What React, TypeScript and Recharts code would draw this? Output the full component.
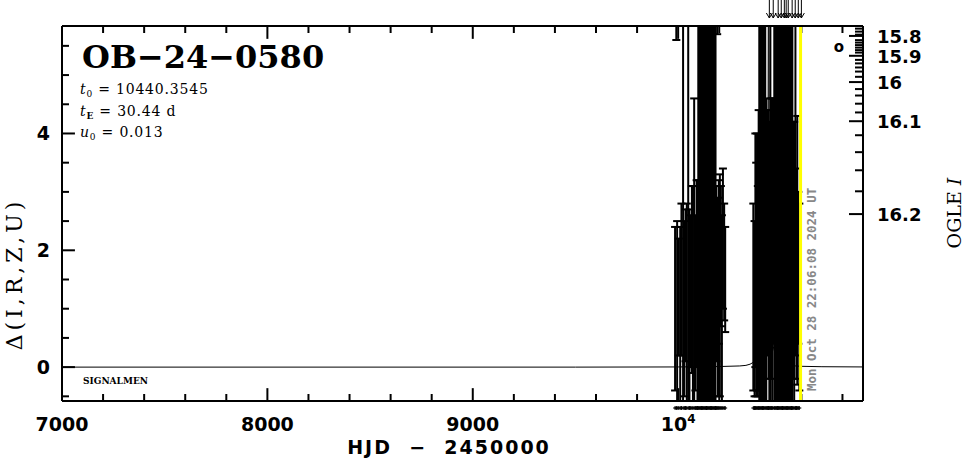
import React from 'react';
import { ComposedChart, Scatter, Line, XAxis, YAxis, ErrorBar, ReferenceLine } from 'recharts';

// ---------- data ----------
const season2023Time = [9985, 9991, 9995, 10003, 10010, 10016, 10024, 10030, 10036, 10042, 10049, 10055, 10061, 10067, 10072, 10078, 10084, 10090, 10094, 10098, 10102, 10106, 10110, 10114, 10118, 10122, 10126, 10130, 10134, 10138, 10142, 10146, 10150, 10154, 10158, 10162, 10166, 10170, 10174, 10178, 10182, 10186, 10190, 10194, 10198, 10203, 10208, 10213, 10218, 10224, 10229];
const season2023Delta = [1.0, 7.0, 0.9, 1.2, 0.8, 1.5, 3.0, 1.0, 1.4, 1.1, 3.2, 0.9, 1.3, 1.5, 1.2, 2.0, 1.1, 1.6, 1.3, 3.5, 3.0, 3.4, 2.8, 3.6, 3.0, 3.3, 2.6, 3.8, 3.1, 2.9, 3.5, 3.0, 3.7, 2.7, 3.2, 3.4, 2.9, 3.6, 3.1, 3.3, 3.0, 1.6, 6.5, 1.2, 1.8, 1.4, 1.9, 1.0, 2.2, 1.8, 1.5];
const season2023Err = [1.4, 1.4, 1.6, 1.0, 1.6, 1.3, 4.0, 1.5, 1.3, 1.7, 4.0, 1.8, 1.3, 1.6, 1.9, 2.6, 1.5, 1.6, 1.9, 4.2, 4.0, 4.5, 3.6, 4.4, 4.0, 4.2, 3.5, 4.6, 3.9, 4.1, 4.3, 3.8, 4.5, 3.6, 4.0, 4.2, 3.7, 4.4, 4.0, 4.1, 3.9, 1.5, 0.8, 1.7, 1.4, 1.9, 1.2, 1.6, 1.2, 1.0, 0.9];

const season2024Time = [10366, 10372, 10376, 10380, 10384, 10388, 10392, 10395, 10399, 10403, 10407, 10411, 10415, 10419, 10424, 10429, 10433, 10436, 10440, 10444, 10449, 10454, 10458, 10462, 10468, 10472, 10476, 10480, 10484, 10488, 10492, 10496, 10500, 10504, 10508, 10512, 10516, 10520, 10524, 10528, 10532, 10536, 10540, 10544, 10548, 10552, 10556, 10560, 10565, 10571, 10576, 10580, 10585, 10590];
const season2024Delta = [1.2, 1.0, 2.0, 1.5, 1.8, 1.3, 2.0, 3.5, 3.0, 3.6, 2.8, 3.3, 3.0, 3.7, 3.2, 2.0, 1.8, 2.4, 2.1, 1.7, 3.4, 2.2, 2.0, 2.5, 3.3, 3.0, 3.6, 2.8, 3.4, 3.1, 3.7, 2.9, 3.2, 3.5, 3.0, 3.6, 2.7, 3.3, 3.1, 3.8, 2.9, 3.4, 3.0, 3.5, 3.2, 2.8, 3.6, 2.0, 1.8, 3.2, 1.6, 2.0, 1.7, 1.2];
const season2024Err = [1.6, 1.5, 2.0, 2.0, 2.2, 1.8, 2.4, 4.5, 4.0, 4.4, 3.8, 4.2, 3.9, 4.5, 4.1, 2.6, 1.6, 2.0, 2.3, 2.5, 4.2, 2.4, 2.6, 2.1, 4.2, 4.0, 4.4, 3.8, 4.3, 4.0, 4.5, 3.9, 4.1, 4.3, 4.0, 4.4, 3.7, 4.2, 4.0, 4.6, 3.9, 4.3, 4.0, 4.4, 4.1, 3.8, 4.4, 2.2, 2.4, 3.0, 1.8, 2.3, 1.3, 1.6];

const offscaleTime = [10444, 10463, 10487, 10502, 10517, 10526, 10536, 10555, 10570, 10585, 10600];

const modelTime = [7000, 9500, 10000, 10200, 10300, 10330, 10350, 10370, 10390, 10405, 10418, 10428, 10434, 10438, 10440.35, 10443, 10447, 10453, 10463, 10476, 10491, 10511, 10550, 10600, 10700, 10900];
const modelDelta = [0, 0, 0.003, 0.01, 0.02, 0.03, 0.05, 0.09, 0.16, 0.27, 0.48, 0.95, 1.9, 4.2, 9.0, 3.3, 1.5, 0.75, 0.35, 0.18, 0.1, 0.05, 0.025, 0.014, 0.007, 0.003];

const NOW_T = 10596;
const NOW_LABEL = 'Mon Oct 28 22:06:08 2024 UT';

const X_DOMAIN: [number, number] = [7000, 10900];
const Y_DOMAIN: [number, number] = [-0.58, 5.84];

const xMajorTicks = [7000, 8000, 9000, 10000];
const xMinorTicks = [7200, 7400, 7600, 7800, 8200, 8400, 8600, 8800, 9200, 9400, 9600, 9800, 10200, 10400, 10600, 10800];
const yMajorTicks = [0, 2, 4];
const yMinorTicks = [-0.5, 0.5, 1, 1.5, 2.5, 3, 3.5, 4.5, 5, 5.5];
const ogleMagLabels = ['15.8', '15.9', '16', '16.1', '16.2'];
const ogleMagDelta = [5.67, 5.33, 4.88, 4.21, 2.62];
const ogleMinorDelta = [5.795, 5.744, 5.692, 5.598, 5.556, 5.513, 5.47, 5.427, 5.385, 5.26, 5.2, 5.13, 5.06, 4.97, 4.76, 4.65, 4.51, 4.36, 3.97, 3.68, 3.37, 3.01];

// ---------- layout ----------
const PLOT_L = 62;
const PLOT_T = 26;
const PLOT_R = 863;
const PLOT_B = 401;
// inward tick-mark lengths, expressed in axis units (major / minor)
const X_TICK_LEN = [0.22, 0.12]; // along y, for ticks on the top/bottom edges
const Y_TICK_LEN = [63, 34]; // along x, for ticks on the left edge

// ---------- build tables ----------
// error bars are cut at the frame (offsets limited to the visible y range)
const toPoint = (t: number, d: number, e: number) => {
  const lo = Math.max(d - e, Y_DOMAIN[0]);
  const hi = Math.min(d + e, Y_DOMAIN[1]);
  return { t, d, err: [d - lo, hi - d] };
};
const points = [
  ...season2023Time.map((t, i) => toPoint(t, season2023Delta[i], season2023Err[i])),
  ...season2024Time.map((t, i) => toPoint(t, season2024Delta[i], season2024Err[i])),
];
const obsMarks = [...season2023Time, ...season2024Time].map((t) => ({ t, v: 0 }));
const arrowMarks = offscaleTime.map((t) => ({ t, v: 1 }));
const modelData = modelTime.map((t, i) => ({ t, d: modelDelta[i] }));

const SANS = 'DejaVu Sans';
const SERIF = 'DejaVu Serif';
const MONO = 'DejaVu Sans Mono';

const BottomTick = (props: any) => {
  const { x, payload } = props;
  const v = payload.value;
  if (!xMajorTicks.includes(v)) return <g />;
  const y = PLOT_B;
  return v === 10000 ? (
    <text x={x} y={y + 30} textAnchor="middle" fontFamily={SANS} fontWeight="bold" fontSize={19} fill="#000">
      10<tspan fontSize={12} dy={-8}>4</tspan>
    </text>
  ) : (
    <text x={x} y={y + 30} textAnchor="middle" fontFamily={SANS} fontWeight="bold" fontSize={19} fill="#000">
      {v}
    </text>
  );
};

const LeftTick = (props: any) => {
  const { y, payload } = props;
  const v = payload.value;
  if (!yMajorTicks.includes(v)) return <g />;
  return (
    <text x={PLOT_L - 12} y={y + 7} textAnchor="end" fontFamily={SANS} fontWeight="bold" fontSize={19} fill="#000">
      {v}
    </text>
  );
};

const RightTick = (props: any) => {
  const { y, payload } = props;
  const v = payload.value;
  const idx = ogleMagDelta.indexOf(v);
  const major = idx >= 0;
  const x = PLOT_R;
  return (
    <g>
      <line x1={x} y1={y} x2={x - (major ? 14 : 8)} y2={y} stroke="#000" strokeWidth={2} />
      {major && (
        <text x={x + 14} y={y + 7} textAnchor="start" fontFamily={SANS} fontWeight="bold" fontSize={18} fill="#000">
          {ogleMagLabels[idx]}
        </text>
      )}
    </g>
  );
};

const NoDot = () => <g />;

const CrossShape = (props: any) => {
  const { cx } = props;
  const cy = PLOT_B;
  return (
    <g stroke="#000" strokeWidth={1}>
      <line x1={cx - 2} y1={cy + 7} x2={cx + 2} y2={cy + 7} />
      <line x1={cx} y1={cy + 5} x2={cx} y2={cy + 9} />
    </g>
  );
};

const ArrowShape = (props: any) => {
  const { cx } = props;
  const cy = PLOT_T;
  return (
    <g stroke="#000" strokeWidth={1} fill="none">
      <line x1={cx} y1={cy - 26} x2={cx} y2={cy - 8} />
      <polyline points={`${cx - 3},${cy - 13} ${cx},${cy - 8} ${cx + 3},${cy - 13}`} />
    </g>
  );
};

const DateLabel = (props: any) => {
  const vb = props.viewBox || {};
  const x = (vb.x ?? 0) + 15;
  const y = PLOT_B - 10;
  return (
    <text
      transform={`translate(${x},${y}) rotate(-90)`}
      fontFamily={MONO}
      fontWeight="bold"
      fontSize={12.5}
      fill="#888"
    >
      {NOW_LABEL}
    </text>
  );
};

export default function App() {
  const xTicks = [...xMajorTicks, ...xMinorTicks].sort((a, b) => a - b);
  const yTicks = [...yMajorTicks, ...yMinorTicks].sort((a, b) => a - b);
  const rTicks = [...ogleMagDelta, ...ogleMinorDelta].sort((a, b) => a - b);

  const tickMarks: any[] = [];
  xTicks.forEach((v) => {
    const len = xMajorTicks.includes(v) ? X_TICK_LEN[0] : X_TICK_LEN[1];
    tickMarks.push([{ x: v, y: Y_DOMAIN[0] }, { x: v, y: Y_DOMAIN[0] + len }]);
    tickMarks.push([{ x: v, y: Y_DOMAIN[1] }, { x: v, y: Y_DOMAIN[1] - len }]);
  });
  yTicks.forEach((v) => {
    const len = yMajorTicks.includes(v) ? Y_TICK_LEN[0] : Y_TICK_LEN[1];
    tickMarks.push([{ x: X_DOMAIN[0], y: v }, { x: X_DOMAIN[0] + len, y: v }]);
  });

  return (
    <div style={{ position: 'absolute', left: 0, top: 0, width: 966, height: 459, background: '#fff' }}>
      <ComposedChart width={966} height={459} margin={{ top: 0, right: 0, bottom: 0, left: 0 }}>
        <XAxis
          xAxisId="x"
          dataKey="t"
          type="number"
          domain={X_DOMAIN}
          ticks={xTicks}
          interval={0}
          height={58}
          tickSize={0}
          tickMargin={0}
          tickLine={false}
          tick={<BottomTick />}
          axisLine={{ stroke: '#000', strokeWidth: 2 }}
        />
        <XAxis
          xAxisId="top"
          orientation="top"
          type="number"
          domain={X_DOMAIN}
          ticks={xTicks}
          interval={0}
          height={26}
          tick={false}
          tickLine={false}
          axisLine={{ stroke: '#000', strokeWidth: 2 }}
        />
        <YAxis
          yAxisId="y"
          dataKey="d"
          type="number"
          domain={Y_DOMAIN}
          allowDataOverflow
          ticks={yTicks}
          interval={0}
          width={62}
          tickSize={0}
          tickMargin={0}
          tickLine={false}
          tick={<LeftTick />}
          axisLine={false}
        />
        <YAxis
          yAxisId="right"
          orientation="right"
          type="number"
          domain={Y_DOMAIN}
          allowDataOverflow
          ticks={rTicks}
          interval={0}
          width={103}
          tickSize={0}
          tickMargin={0}
          tickLine={false}
          tick={<RightTick />}
          axisLine={{ stroke: '#000', strokeWidth: 2 }}
        />
        <YAxis yAxisId="obs" dataKey="v" type="number" domain={[0, 1]} hide />

        <ReferenceLine xAxisId="x" yAxisId="y" x={X_DOMAIN[0]} stroke="#000" strokeWidth={2} />
        {tickMarks.map((seg, i) => (
          <ReferenceLine key={`tk${i}`} xAxisId="x" yAxisId="y" segment={seg} stroke="#000" strokeWidth={2} />
        ))}
        <Line
          xAxisId="x"
          yAxisId="y"
          data={modelData}
          dataKey="d"
          type="linear"
          stroke="#000"
          strokeWidth={1}
          dot={false}
          activeDot={false}
          isAnimationActive={false}
        />
        <Scatter xAxisId="x" yAxisId="y" data={points} shape={<NoDot />} isAnimationActive={false}>
          <ErrorBar dataKey="err" direction="y" width={4} stroke="#000" strokeWidth={2} isAnimationActive={false} />
        </Scatter>
        <ReferenceLine
          xAxisId="x"
          yAxisId="y"
          x={NOW_T}
          stroke="#ffff00"
          strokeWidth={3}
          label={(p: any) => <DateLabel {...p} />}
        />
        <Scatter xAxisId="x" yAxisId="obs" data={obsMarks} shape={<CrossShape />} isAnimationActive={false} />
        <Scatter xAxisId="x" yAxisId="obs" data={arrowMarks} shape={<ArrowShape />} isAnimationActive={false} />
      </ComposedChart>

      <svg width={966} height={459} style={{ position: 'absolute', left: 0, top: 0, pointerEvents: 'none' }}>
        <text x={82} y={68} fontFamily={SERIF} fontWeight="bold" fontSize={32} fill="#000">
          OB−24−0580
        </text>
        <text x={80} y={94} fontFamily={SERIF} fontSize={14} letterSpacing={0.8} fill="#000" style={{ whiteSpace: 'pre' }}>
          <tspan fontStyle="italic">t</tspan>
          <tspan fontSize={9} dy={3}>0</tspan>
          <tspan dy={-3}>{' = 10440.3545'}</tspan>
        </text>
        <text x={80} y={116} fontFamily={SERIF} fontSize={14} letterSpacing={0.8} fill="#000" style={{ whiteSpace: 'pre' }}>
          <tspan fontStyle="italic">t</tspan>
          <tspan fontSize={9} dy={3} fontWeight="bold">E</tspan>
          <tspan dy={-3}>{' = 30.44 d'}</tspan>
        </text>
        <text x={80} y={137} fontFamily={SERIF} fontSize={14} letterSpacing={0.8} fill="#000" style={{ whiteSpace: 'pre' }}>
          <tspan fontStyle="italic">u</tspan>
          <tspan fontSize={9} dy={3}>0</tspan>
          <tspan dy={-3}>{' = 0.013'}</tspan>
        </text>
        <text x={83} y={384} fontFamily={SERIF} fontWeight="bold" fontSize={9} fill="#000">
          SIGNALMEN
        </text>
        <text x={839} y={52} textAnchor="middle" fontFamily={SANS} fontWeight="bold" fontSize={15} fill="#000">
          o
        </text>
        <text
          transform="translate(22,274) rotate(-90)"
          textAnchor="middle"
          fontFamily={SERIF}
          fontSize={22}
          letterSpacing={4}
          fill="#000"
        >
          Δ(I,R,Z,U)
        </text>
        <text
          transform="translate(961,213) rotate(-90)"
          textAnchor="middle"
          fontFamily={SERIF}
          fontSize={19}
          fill="#000"
          style={{ whiteSpace: 'pre' }}
        >
          {'OGLE '}
          <tspan fontStyle="italic">I</tspan>
        </text>
        <text
          x={449}
          y={454}
          textAnchor="middle"
          fontFamily={SANS}
          fontWeight="bold"
          fontSize={19}
          letterSpacing={2}
          fill="#000"
          style={{ whiteSpace: 'pre' }}
        >
          {'HJD  −  2450000'}
        </text>
      </svg>
    </div>
  );
}
